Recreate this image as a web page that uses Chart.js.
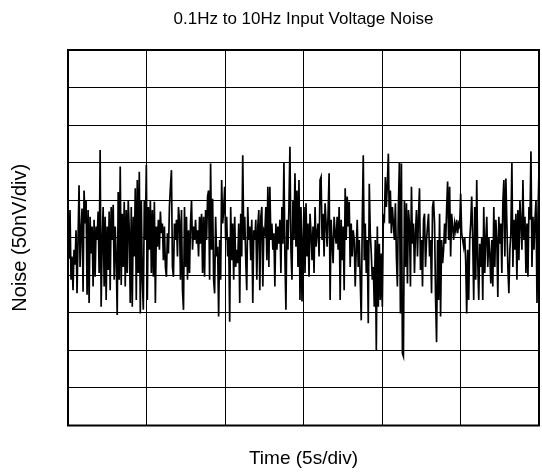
<!DOCTYPE html>
<html><head><meta charset="utf-8">
<script src="https://cdn.jsdelivr.net/npm/chart.js@4.4.1/dist/chart.umd.min.js"></script>
<style>html,body{margin:0;padding:0;background:#fff;}</style>
</head><body>
<canvas id="c" width="542" height="474"></canvas>
<script>
const chartTitle = '0.1Hz to 10Hz Input Voltage Noise';
const xTitle = 'Time (5s/div)';
const yTitle = 'Noise (50nV/div)';
const timeRangeSeconds = [0, 30];      // 6 divisions x 5 s
const noiseRangeNanoVolts = [-250, 250]; // 10 divisions x 50 nV

// Noise samples in nV left to right (per grid region)
const noiseSeg1 = [35,-28,37,-56,-25,-70,-16,-36,10,-74,-3,70,-39,10,39,-72,63,19,50,-76,37,-87,28,-21,15,-65,24,-52,15,-3,35,-47,117,-92,-8,41,-65,28,-83,15,-43,35,-70,41,-3,44,-56,15,-28,-103,61,-56,95,-63,32,-39,48,-65,37,-47,50,10,-87,41,-92,28];
const noiseSeg2 = [-25,66,-83,77,-47,88,-101,50,-56,-96,50,-3,97,-83,41,-16,50,-47,37,-52,48,-87,15,-12,24,-16,35,6,19,-30,15,-39,-52,6,-21,41,68,90,-39,-52,19,-3,24,-25,41,24,-56,37,-70,-96,41,-39,28,-56,10,-47,19,50,-16,15,-3,24,-8,10,-25,28,-8];
const noiseSeg3 = [32,-47,28,-52,37,-3,55,63,-56,99,-16,52,-56,-74,28,-25,-12,-105,-3,-56,77,19,37,68,-3,28,-25,1,-112,41,-30,19,-56,28,-39,-16,-34,19,-87,32,-25,110,-3,28,-30,-70,41,-3,15,-30,24,-87,10,-3,24,-56,15,37,-70,28,41,-65,10,6,41,-30,68];
const noiseSeg4 = [-39,68,-3,19,-16,6,-65,19,-16,15,-8,24,-47,41,-8,101,-25,-96,24,-16,41,121,-16,-56,50,-3,86,-12,63,-39,77,-83,41,-85,-3,41,-47,46,-25,19,-52,32,6,-30,15,-47,41,-12,6,19,-25,77,81,-3,32,-25,46,19,-12,32,86,-83,24,-8,-34,28,6];
const noiseSeg5 = [-8,28,-16,41,-83,24,-30,15,-70,66,-3,55,15,48,-39,19,-25,10,-3,-65,-16,24,-39,-3,-56,-110,19,110,-30,19,-47,-3,-114,72,6,-21,-56,-39,-92,-3,-150,15,-92,-8,-83,-21,-92,28,24,81,41,72,112,19,63,6,41,19,-3,46,-25,-65,41,101,-101,99,-154];
const noiseSeg6 = [-158,50,-39,46,-61,37,19,-65,68,-8,19,-47,6,37,-25,28,66,-43,-3,-65,24,32,-39,-3,15,32,-25,-3,-74,41,50,19,-79,-139,-3,-83,32,-105,-3,-34,-16,19,-8,37,75,-3,68,-25,32,15,-3,19,10,24,6,19,15,59,6,-3,-12,1,-30,-101,-16,-83,-3];
const noiseSeg7 = [19,55,-3,-83,41,-56,77,-30,-83,-8,-39,1,-83,41,-47,-3,28,-39,1,-21,-61,-3,-65,41,-39,24,-3,-79,28,-8,19,-47,46,77,-25,79,19,-39,-74,-16,6,101,-39,24,-16,32,-56,37,-30,50,19,-16,77,-3,28,-47,19,-52,41,24,115,-39,28,-16,24,50,-87,32,90];

const noise = [].concat(noiseSeg1, noiseSeg2, noiseSeg3, noiseSeg4, noiseSeg5, noiseSeg6, noiseSeg7);
const sampleTimes = noise.map((_, i) => timeRangeSeconds[0] + i * (timeRangeSeconds[1] - timeRangeSeconds[0]) / (noise.length - 1));
const points = noise.map((v, i) => ({x: sampleTimes[i], y: v}));

const FONT = 'Liberation Sans, Arial, Helvetica, sans-serif';

const framePlugin = {
  id: 'frame',
  afterDraw(chart) {
    const {ctx, chartArea: a} = chart;
    ctx.save();
    ctx.strokeStyle = '#000';
    ctx.lineWidth = 2;
    ctx.strokeRect(a.left, a.top, a.right - a.left, a.bottom - a.top);
    ctx.restore();
  }
};

new Chart(document.getElementById('c'), {
  type: 'line',
  data: { datasets: [{ data: points, borderColor: '#000', borderWidth: 1.7, pointRadius: 0, tension: 0, fill: false }] },
  options: {
    responsive: false,
    animation: false,
    layout: { padding: { left: 0, right: 3, top: 0, bottom: 0 } },
    plugins: {
      legend: { display: false },
      tooltip: { enabled: false },
      title: { display: true, text: chartTitle, fullSize: false, color: '#000',
               font: { family: FONT, size: 17, weight: 'normal' }, padding: { top: 8.8, bottom: 20.8 } }
    },
    scales: {
      x: { type: 'linear', min: timeRangeSeconds[0], max: timeRangeSeconds[1],
           ticks: { display: false, stepSize: 5 },
           grid: { color: '#000', lineWidth: 1, drawTicks: false },
           border: { display: false },
           title: { display: true, text: xTitle, color: '#000', font: { family: FONT, size: 19 }, padding: { top: 22.1, bottom: 3.6 } } },
      y: { type: 'linear', min: noiseRangeNanoVolts[0], max: noiseRangeNanoVolts[1],
           ticks: { display: false, stepSize: 50 },
           grid: { color: '#000', lineWidth: 1, drawTicks: false },
           border: { display: false },
           title: { display: true, text: yTitle, color: '#000', font: { family: FONT, size: 20 }, padding: { top: 8, bottom: 36 } } }
    }
  },
  plugins: [framePlugin]
});
</script>
</body></html>
